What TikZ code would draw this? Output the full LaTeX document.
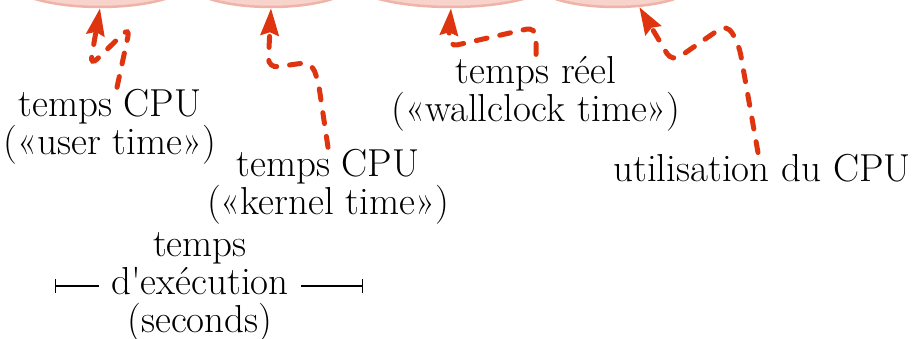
\documentclass[tikz,border=0pt]{standalone}
\usepackage{xcolor}
\definecolor{callred}{HTML}{DF3410}
\definecolor{blobfill}{HTML}{F8D3CB}
\definecolor{blobedge}{HTML}{F0B3A8}
\usepackage{tikz}
\usetikzlibrary{arrows.meta,shapes.geometric,calc}

\begin{document}
\begin{tikzpicture}[
  x=1pt,y=-1pt,
  blob/.style={ellipse,fill=blobfill,draw=blobedge,line width=2.5pt,inner sep=0pt,minimum height=52pt},
  lbl/.style={align=center,inner sep=2pt,font=\fontsize{39}{38}\selectfont},
  arr/.style={-{Stealth[length=27pt,width=18pt,inset=3pt]},callred,line width=5pt,
    line cap=round,dash pattern=on 11pt off 13pt,rounded corners=10pt},
  span/.style={{Bar[width=14pt]}-,line width=1.4pt},
]
\useasboundingbox (0,0) rectangle (915,339);

% Bottoms of the four states
\begin{scope}
  \clip (0,0) rectangle (915,339);
  \node[blob,minimum width=180pt] (user) at (100,-19) {};
  \node[blob,minimum width=170pt] (kernel) at (271,-19) {};
  \node[blob,minimum width=200pt] (wall) at (451,-19) {};
  \node[blob,minimum width=165pt] (use) at (615,-19) {};
\end{scope}

% Labels
\node[lbl] (usertxt) at (110,127) {temps CPU\\(«user time»)};
\node[lbl] (kerneltxt) at (328,187) {temps CPU\\(«kernel time»)};
\node[lbl] (walltxt) at (536,94) {temps réel\\(«wallclock time»)};
\node[lbl,anchor=base] (cputxt) at (762,182) {utilisation du CPU};
\node[lbl] (exectxt) at (200,287) {temps\\d\textquotesingle exécution\\(seconds)};

% Span under the duration
\coordinate (spanl) at (55,286);
\coordinate (spanr) at (363,286);
\draw[span] (spanl) -- ([xshift=-10pt]spanl -| exectxt.west);
\draw[span] (spanr) -- ([xshift=10pt]spanr -| exectxt.east);

% Arrows
\draw[arr] ([xshift=7pt]usertxt.north) -- (130,27) -- (90,66) -- (user.south);
\draw[arr] (kerneltxt.north) -- (318,80) -- (311,62) -- (268,68) -- (kernel.south);
\draw[arr] (walltxt.north) -- (536,27) -- (448,47) -- (wall.south);
\draw[arr] ([xshift=-4pt]cputxt.north) -- (739,45) -- (727,24) -- (672,62) -- (use.-47);
\end{tikzpicture}
\end{document}
